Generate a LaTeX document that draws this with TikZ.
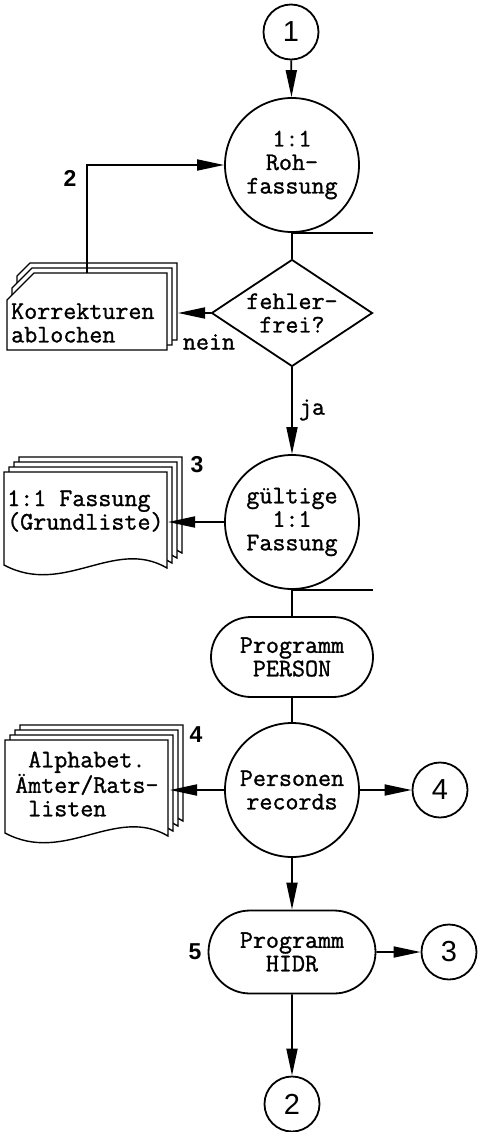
\documentclass[tikz,border=0pt]{standalone}
\usepackage{fontspec}
\newfontfamily\cour{Latin Modern Mono}[FakeBold=1.2]
\setsansfont{Liberation Sans}
\usetikzlibrary{arrows.meta,shapes.geometric,shapes.misc}
\begin{document}
\begin{tikzpicture}[x=1pt,y=-1pt,
  line/.style={line width=1.8pt},
  arr/.style={line, -{Triangle[length=27pt,width=11pt]}},
  txt/.style={font=\fontsize{25.3}{23.5}\selectfont\cour},
  proc/.style={circle, draw, line, minimum size=134pt, inner sep=0pt, txt, align=center},
  conn/.style={circle, draw, line, minimum size=55pt, inner sep=0pt, font=\fontsize{29}{29}\selectfont\sffamily},
  prog/.style={rounded rectangle, draw, line, minimum width=162pt, minimum height=80pt, inner sep=0pt, txt, align=center},
  lbl/.style={font=\fontsize{23}{23}\selectfont\bfseries\sffamily},
  sheet/.style={line width=1.4pt, fill=white},
  docsheet/.pic={\draw[sheet] (0,0) -- (163,0) -- (163,96) .. controls (110,65) and (60,125) .. (0,93) -- cycle;},
  cardsheet/.pic={\draw[sheet] (0,#1) -- (#1,0) -- (160,0) -- (160,77) -- (0,77) -- cycle;}
]
\useasboundingbox (0,0) rectangle (477,1132);

% card stack (Korrekturen)
\pic at (17,263) {cardsheet=13};
\pic at (12,268) {cardsheet=20};
\pic at (7,273) {cardsheet=27};
\node[txt, anchor=west, align=left, inner sep=0pt] (ktext) at (11,323) {Korrekturen\\ablochen};

% document stack 3
\pic at (19,457) {docsheet};
\pic at (14,462) {docsheet};
\pic at (9,467) {docsheet};
\pic at (4,472) {docsheet};
\node[txt, anchor=west, align=left, inner sep=0pt] (gtext) at (7,511) {1:1 Fassung\\(Grundliste)};

% document stack 4
\pic at (20,725) {docsheet};
\pic at (15,730) {docsheet};
\pic at (10,735) {docsheet};
\pic at (5,740) {docsheet};
\node[txt, anchor=west, align=left, inner sep=0pt] (atext) at (15,784) {\phantom{x}Alphabet.\\Ämter/Rats-\\\phantom{x}listen};

% main nodes
\node[conn] (c1) at (291,32) {1};
\node[proc] (roh) at (292,165) {1:1\\Roh-\\fassung};
\node[diamond, draw, line, aspect=1.5, inner sep=0pt, minimum width=161pt, minimum height=107pt, txt, align=center] (dia) at (292,313) {fehler-\\frei?};
\node[proc] (gul) at (292,522) {gültige\\1:1\\Fassung};
\node[prog] (pers) at (292,657) {Programm\\PERSON};
\node[proc] (rec) at (292,790) {Personen\\records};
\node[conn] (c4) at (440,790) {4};
\node[prog, minimum width=167pt, minimum height=83pt] (hidr) at (292,952) {Programm\\HIDR};
\node[conn] (c3) at (449,952) {3};
\node[conn] (c2) at (292,1104) {2};

% coordinates for free ends
\coordinate (k2) at (87,273);
\coordinate (kend) at (178,313);
\coordinate (gend) at (168,522);
\coordinate (aend) at (170,790);

% connectors
\draw[arr] (c1) -- (roh);
\draw[arr] (k2) |- (roh.west);
\draw[line] (roh) -- (dia);
\draw[line] (roh.south) -- ++(81,0);
\draw[arr] (dia.west) -- (kend);
\draw[arr] (dia) -- (gul);
\draw[arr] (gul.west) -- (gend);
\draw[line] (gul.south) -- ++(81,0);
\draw[line] (gul) -- (pers);
\draw[line] (pers) -- (rec);
\draw[arr] (rec.west) -- (aend);
\draw[arr] (rec) -- (c4);
\draw[arr] (rec) -- (hidr);
\draw[arr] (hidr) -- (c3);
\draw[arr] (hidr) -- (c2);

% labels
\node[txt] (nein) at (209,342) {nein};
\node[txt] (ja) at (312,410) {ja};
\node[lbl] (l2) at (70,178) {2};
\node[lbl] (l3) at (197,465) {3};
\node[lbl] (l4) at (196,735) {4};
\node[lbl] (l5) at (195,952) {5};
\end{tikzpicture}
\end{document}
